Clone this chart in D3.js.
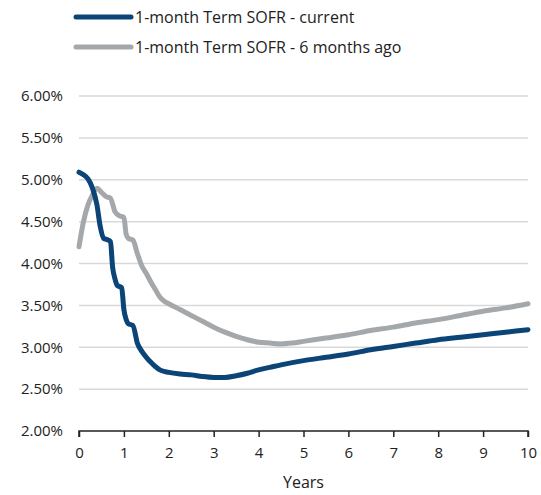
<!DOCTYPE html>
<html>
<head>
<meta charset="utf-8">
<script src="https://cdn.jsdelivr.net/npm/d3@7"></script>
<style>
  body { margin: 0; background: #fff; }
  text { font-family: "Open Sans", "Liberation Sans", sans-serif; fill: #222; }
</style>
</head>
<body>
<svg id="chart" width="541" height="495"></svg>
<script>
const svg = d3.select("#chart");

// tenor in years
const years_current = [0, 0.1, 0.2, 0.3, 0.4, 0.47, 0.55, 0.65, 0.7, 0.75, 0.8, 0.85, 0.95, 1.0, 1.05, 1.1, 1.2, 1.3, 1.4, 1.5, 1.6, 1.7, 1.8, 2.0, 2.25, 2.5, 2.75, 3.0, 3.25, 3.5, 3.75, 4.0, 4.25, 4.5, 5.0, 5.5, 6.0, 6.5, 7.0, 7.5, 8.0, 8.5, 9.0, 9.5, 10];
const rate_current = [5.09, 5.06, 5.01, 4.90, 4.70, 4.45, 4.30, 4.28, 4.26, 3.95, 3.82, 3.74, 3.71, 3.45, 3.33, 3.28, 3.26, 3.05, 2.95, 2.88, 2.82, 2.77, 2.73, 2.70, 2.68, 2.67, 2.65, 2.64, 2.64, 2.66, 2.69, 2.73, 2.76, 2.79, 2.84, 2.88, 2.92, 2.97, 3.01, 3.05, 3.09, 3.12, 3.15, 3.18, 3.21];

const years_6m = [0, 0.1, 0.2, 0.3, 0.4, 0.5, 0.6, 0.7, 0.8, 0.9, 1.0, 1.05, 1.1, 1.2, 1.3, 1.4, 1.5, 1.6, 1.7, 1.8, 1.9, 2.0, 2.25, 2.5, 2.75, 3.0, 3.25, 3.5, 3.75, 4.0, 4.25, 4.5, 4.75, 5.0, 5.5, 6.0, 6.5, 7.0, 7.5, 8.0, 8.5, 9.0, 9.5, 10];
const rate_6m = [4.20, 4.50, 4.70, 4.82, 4.90, 4.85, 4.80, 4.78, 4.62, 4.57, 4.55, 4.35, 4.30, 4.28, 4.12, 3.97, 3.88, 3.78, 3.69, 3.60, 3.55, 3.52, 3.45, 3.38, 3.31, 3.24, 3.18, 3.13, 3.09, 3.06, 3.05, 3.04, 3.05, 3.07, 3.11, 3.15, 3.20, 3.24, 3.29, 3.33, 3.38, 3.43, 3.47, 3.52];

const series_names = ["1-month Term SOFR - current", "1-month Term SOFR - 6 months ago"];
const series_colors = ["#0b4477", "#a5a8ab"];
const y_ticks = [2, 2.5, 3, 3.5, 4, 4.5, 5, 5.5, 6];
const x_ticks = [0, 1, 2, 3, 4, 5, 6, 7, 8, 9, 10];

const x = d3.scaleLinear().domain([0, 10]).range([79, 528]);
const y = d3.scaleLinear().domain([2, 6]).range([431, 96]);

// gridlines
svg.append("g")
    .selectAll("line")
    .data(y_ticks.filter(d => d > 2))
    .enter()
    .append("line")
    .attr("x1", x(0))
    .attr("x2", x(10))
    .attr("y1", d => y(d))
    .attr("y2", d => y(d))
    .style("stroke", "#d9d9d9")
    .style("stroke-width", 1.5);

// y labels
svg.append("g")
    .selectAll("text")
    .data(y_ticks)
    .enter()
    .append("text")
    .attr("x", 63)
    .attr("y", d => y(d))
    .attr("dy", "0.35em")
    .attr("text-anchor", "end")
    .style("font-size", "15px")
    .text(d => d.toFixed(2) + "%");

// x axis
const xAxis = d3.axisBottom(x).tickValues(x_ticks).tickSize(6).tickPadding(10).tickFormat(d3.format("d"));
const gx = svg.append("g")
    .attr("transform", "translate(0," + y(2) + ")")
    .call(xAxis);
gx.select(".domain").attr("d", "M" + x(0) + ",6V0H" + x(10) + "V6").style("stroke", "#222").style("stroke-width", 1.5);
gx.selectAll(".tick line").style("stroke", "#222").style("stroke-width", 1.5);
gx.selectAll(".tick text").style("font-size", "15px").style("font-family", "'Open Sans', sans-serif").attr("fill", "#222");

svg.append("text")
    .attr("x", (x(0) + x(10)) / 2)
    .attr("y", 488)
    .attr("text-anchor", "middle")
    .style("font-size", "16px")
    .text("Years");

// lines
const line = d3.line()
    .x(d => x(d[0]))
    .y(d => y(d[1]))
    .curve(d3.curveMonotoneX);

const data_6m = years_6m.map((t, i) => [t, rate_6m[i]]);
const data_current = years_current.map((t, i) => [t, rate_current[i]]);

svg.append("path")
    .datum(data_6m)
    .attr("d", line)
    .style("fill", "none")
    .style("stroke", series_colors[1])
    .style("stroke-width", 5)
    .style("stroke-linecap", "round")
    .style("stroke-linejoin", "round");

svg.append("path")
    .datum(data_current)
    .attr("d", line)
    .style("fill", "none")
    .style("stroke", series_colors[0])
    .style("stroke-width", 5)
    .style("stroke-linecap", "round")
    .style("stroke-linejoin", "round");

// legend
const legend = svg.append("g")
    .selectAll("g")
    .data(series_names)
    .enter()
    .append("g")
    .attr("transform", (d, i) => "translate(0," + (17 + i * 30) + ")");

legend.append("line")
    .attr("x1", 76)
    .attr("x2", 131)
    .style("stroke", (d, i) => series_colors[i])
    .style("stroke-width", 5)
    .style("stroke-linecap", "round");

legend.append("text")
    .attr("x", 135)
    .attr("dy", "0.35em")
    .style("font-size", "16px")
    .text(d => d);
</script>
</body>
</html>
